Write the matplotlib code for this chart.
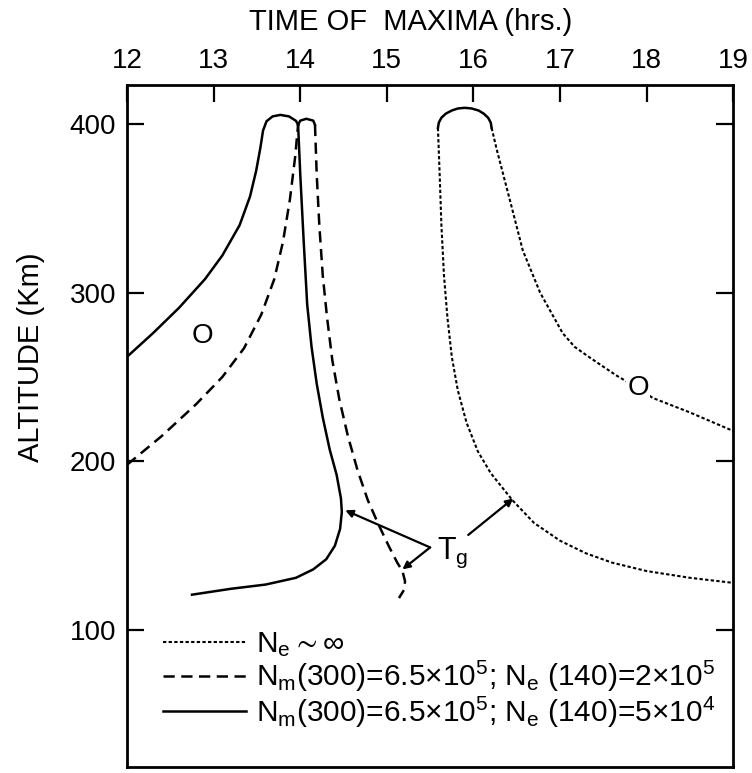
import matplotlib
matplotlib.use("Agg")
import matplotlib.pyplot as plt

# ---- data (time of maxima in hrs, altitude in km) ----
# N_e ~ infinity (dotted): left branch, top arc, right branch
inf_left_t = [15.59, 15.61, 15.63, 15.66, 15.70, 15.75, 15.82, 15.92, 16.05, 16.20, 16.45, 16.70, 17.00,
              17.30, 17.60, 18.00, 18.50, 19.00]
inf_left_a = [397.6, 370, 340, 310, 285, 262, 242, 223, 206, 193, 177, 163.5, 153, 145.5, 140, 135, 131, 128]
inf_arc_t = [15.59, 15.60, 15.63, 15.68, 15.75, 15.82, 15.90, 15.98, 16.06, 16.12, 16.17, 16.20, 16.21]
inf_arc_a = [397.6, 400.7, 403.6, 406.0, 407.9, 409.1, 409.5, 409.1, 407.9, 406.0, 403.6, 400.7, 397.6]
inf_right_t = [16.21, 16.27, 16.42, 16.57, 16.77, 17.03, 17.17, 17.35, 17.52, 17.66, 17.90, 18.07, 18.50, 19.00]
inf_right_a = [397.6, 384.6, 355, 325, 300, 276, 267.8, 261.3, 255.4, 250.6, 243.5, 237.6, 229, 218]

# N_m(300)=6.5e5, N_e(140)=2e5 (dashed)
d_left_t = [12.0, 12.4, 12.8, 13.1, 13.35, 13.55, 13.70, 13.80, 13.88, 13.94, 13.975]
d_left_a = [198, 215, 234, 250, 267, 287, 308, 330, 355, 380, 399.4]
d_arc_t = [13.975, 14.0, 14.07, 14.15, 14.17]
d_arc_a = [399.4, 401.9, 403, 401.9, 399.4]
d_right_t = [14.17, 14.19, 14.22, 14.26, 14.31, 14.37, 14.45, 14.55, 14.66, 14.78, 14.90, 15.02, 15.12,
             15.18, 15.21, 15.20, 15.14]
d_right_a = [399.4, 370, 340, 310, 285, 260, 237, 215, 195, 177, 163, 150, 140, 135, 129, 124, 119]

# N_m(300)=6.5e5, N_e(140)=5e4 (solid): left branch with its top arc, right branch
s_left_t = [12.0, 12.3, 12.6, 12.9, 13.1, 13.3, 13.42, 13.49, 13.54, 13.57, 13.61, 13.68, 13.77, 13.87, 13.95, 13.975]
s_left_a = [262, 276, 291, 308, 322, 340, 357, 372, 386, 396, 401.5, 404.4, 405.3, 404.4, 401.8, 399.4]
s_right_t = [13.975, 14.0, 14.04, 14.08, 14.13, 14.19, 14.26, 14.34, 14.42, 14.47, 14.48, 14.46, 14.40,
             14.30, 14.15, 13.95, 13.60, 13.20, 12.75]
s_right_a = [399.4, 370, 330, 293, 268, 246, 226, 207, 192, 178, 170, 160, 150, 142, 136, 131, 127, 124.5, 121]

xticks = [12, 13, 14, 15, 16, 17, 18, 19]
yticks = [100, 200, 300, 400]
labels = [r"$N_e\sim\infty$",
          r"$N_m(300)$=6.5$\times$10$^5$; $N_e$ (140)=2$\times$10$^5$",
          r"$N_m(300)$=6.5$\times$10$^5$; $N_e$ (140)=5$\times$10$^4$"]

plt.rcParams['font.family'] = ['Liberation Sans', 'DejaVu Sans']
plt.rcParams['mathtext.fontset'] = 'custom'
plt.rcParams['mathtext.rm'] = 'Liberation Sans'
plt.rcParams['mathtext.default'] = 'regular'

fig = plt.figure(figsize=(7.52, 7.73), dpi=100)
ax = fig.add_axes([0.169, 0.008, 0.806, 0.882])

lw = 1.8
dot = dict(color='k', lw=1.5, dashes=(1.6, 1.1))
dash = dict(color='k', lw=lw, dashes=(4.5, 2.6))
solid = dict(color='k', lw=lw)

l1, = ax.plot(inf_left_t, inf_left_a, **dot)
ax.plot(inf_arc_t, inf_arc_a, **solid)
ax.plot(inf_right_t, inf_right_a, **dot)

l2, = ax.plot(d_left_t, d_left_a, **dash)
ax.plot(d_arc_t, d_arc_a, **solid)
ax.plot(d_right_t, d_right_a, **dash)

l3, = ax.plot(s_left_t, s_left_a, **solid)
ax.plot(s_right_t, s_right_a, **solid)

# "O" labels
ax.text(12.87, 274, "O", fontsize=20, ha='center', va='center')
ax.text(17.90, 243.5, "O", fontsize=20, ha='center', va='center', zorder=5,
        bbox=dict(facecolor='white', edgecolor='none', pad=1))

# T_g annotation
ax.text(15.58, 146, r"$T_g$", fontsize=22, ha='left', va='center')
arr = dict(arrowstyle='-|>', lw=1.6, color='k', mutation_scale=11, shrinkA=0, shrinkB=0)
ax.annotate('', xy=(14.52, 171), xytext=(15.50, 149), arrowprops=arr)
ax.annotate('', xy=(15.18, 136), xytext=(15.50, 149), arrowprops=arr)
ax.annotate('', xy=(16.46, 178), xytext=(15.94, 156.4), arrowprops=arr)

ax.set_xlim(12, 19)
ax.set_ylim(19, 423)
ax.set_xticks(xticks)
ax.set_yticks(yticks)
ax.xaxis.tick_top()
ax.xaxis.set_label_position('top')
ax.tick_params(axis='both', direction='in', length=12, width=1.6, labelsize=20, pad=8)
ax.tick_params(axis='y', right=True, left=True)
ax.tick_params(axis='x', bottom=False, top=True)
for s in ax.spines.values():
    s.set_linewidth(2.0)

ax.set_xlabel("TIME OF  MAXIMA (hrs.)", fontsize=21)
ax.xaxis.set_label_coords(0.467, 1.08)
ax.set_ylabel("ALTITUDE (Km)", fontsize=21)
ax.yaxis.set_label_coords(-0.135, 0.60)

leg = ax.legend([l1, l2, l3], labels, loc='upper left', bbox_to_anchor=(0.059, 0.200),
                frameon=False, fontsize=21.5, handlelength=2.8, handletextpad=0.33,
                labelspacing=0.0, borderpad=0, borderaxespad=0)

fig.savefig("out.png", dpi=100)
